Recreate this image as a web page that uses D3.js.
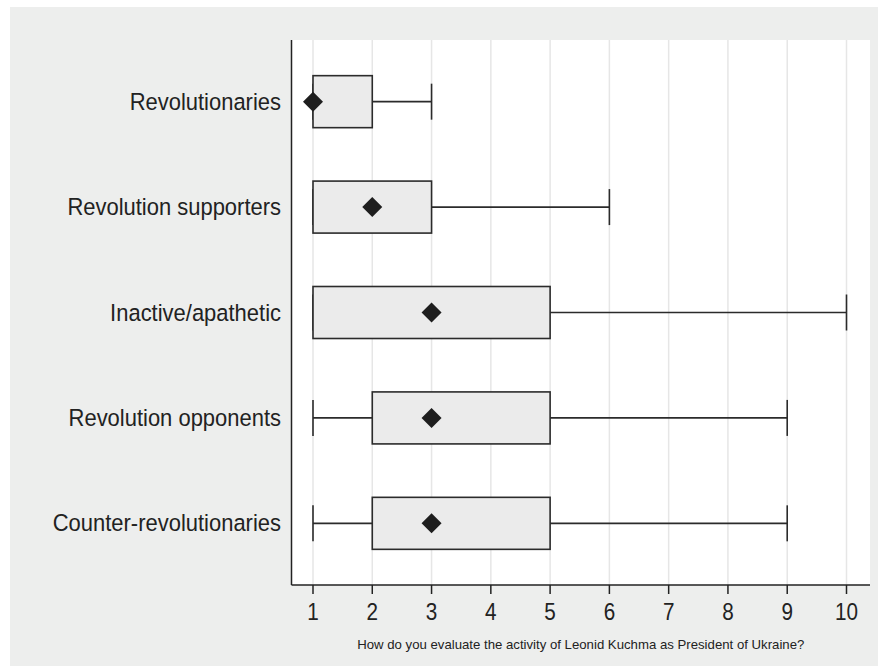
<!DOCTYPE html>
<html>
<head>
<meta charset="utf-8">
<script src="https://cdn.jsdelivr.net/npm/d3@7"></script>
<style>
  body { margin: 0; background: #fff; }
  svg { display: block; }
</style>
</head>
<body>
<svg id="chart"></svg>
<script>
// Box plot: Kuchma evaluation by revolution participation group

var categories = ["Revolutionaries", "Revolution supporters", "Inactive/apathetic",
                  "Revolution opponents", "Counter-revolutionaries"];
var mins    = [1, 1, 1, 1, 1];
var q1s     = [1, 1, 1, 2, 2];
var medians = [1, 2, 3, 3, 3];
var q3s     = [2, 3, 5, 5, 5];
var maxs    = [3, 6, 10, 9, 9];
var xTicks  = [1, 2, 3, 4, 5, 6, 7, 8, 9, 10];
var xTitle  = "How do you evaluate the activity of Leonid Kuchma as President of Ukraine?";

var width = 878, height = 666;
var plot = { left: 291.5, right: 870, top: 40, bottom: 585 };
// the reference font is a bit narrower than Liberation
var squeezeTick = 0.88, squeezeLabel = 0.935;
var font = "Liberation Sans, Arial, sans-serif";

var rows = categories.map(function(c, i) {
  return { name: c, min: mins[i], q1: q1s[i], med: medians[i], q3: q3s[i], max: maxs[i] };
});

var svg = d3.select("#chart").attr("width", width).attr("height", height);

// outer grey background
svg.append("rect").attr("x", 10).attr("y", 7)
  .attr("width", width - 10).attr("height", height - 7)
  .attr("fill", "#edeeed");
svg.append("rect").attr("x", plot.left).attr("y", plot.top)
  .attr("width", plot.right - plot.left).attr("height", plot.bottom - plot.top)
  .attr("fill", "#ffffff");

var x = d3.scaleLinear().domain([1, 10]).range([313, 846.5]);
var y = d3.scalePoint().domain(categories)
  .range([plot.top, plot.bottom]).padding(0.585);

// vertical grid
svg.append("g").selectAll("line").data(xTicks).enter().append("line")
  .attr("x1", function(d) { return x(d); }).attr("x2", function(d) { return x(d); })
  .attr("y1", plot.top).attr("y2", plot.bottom)
  .attr("stroke", "#e6e6e6").attr("stroke-width", 1.5);

var boxH = 26, capH = 18, dia = 10;
var g = svg.append("g");
var grp = g.selectAll("g.row").data(rows).enter().append("g").attr("class", "row")
  .attr("transform", function(d) { return "translate(0," + y(d.name) + ")"; });

grp.append("line")
  .attr("x1", function(d) { return x(d.min); }).attr("x2", function(d) { return x(d.max); })
  .attr("y1", 0).attr("y2", 0)
  .attr("stroke", "#2b2b2b").attr("stroke-width", 1.6);
grp.selectAll("line.cap").data(function(d) { return [d.min, d.max]; })
  .enter().append("line").attr("class", "cap")
  .attr("x1", function(v) { return x(v); }).attr("x2", function(v) { return x(v); })
  .attr("y1", -capH).attr("y2", capH)
  .attr("stroke", "#2b2b2b").attr("stroke-width", 1.6);
grp.append("rect")
  .attr("x", function(d) { return x(d.q1); })
  .attr("width", function(d) { return x(d.q3) - x(d.q1); })
  .attr("y", -boxH).attr("height", 2 * boxH)
  .attr("fill", "#ebebeb").attr("stroke", "#2b2b2b").attr("stroke-width", 1.6);
grp.append("path")
  .attr("d", function(d) {
    var cx = x(d.med);
    return "M" + (cx - dia) + ",0L" + cx + "," + (-dia) + "L" + (cx + dia) + ",0L" + cx + "," + dia + "Z";
  })
  .attr("fill", "#1e1e1e");

// axes lines
svg.append("line").attr("x1", plot.left).attr("x2", plot.left)
  .attr("y1", plot.top).attr("y2", plot.bottom)
  .attr("stroke", "#222").attr("stroke-width", 1.5);
svg.append("line").attr("x1", plot.left).attr("x2", plot.right)
  .attr("y1", plot.bottom).attr("y2", plot.bottom)
  .attr("stroke", "#222").attr("stroke-width", 1.5);

// x ticks + labels
var xt = svg.append("g").selectAll("g").data(xTicks).enter().append("g")
  .attr("transform", function(d) { return "translate(" + x(d) + "," + plot.bottom + ")"; });
xt.append("line").attr("y1", 0).attr("y2", 9).attr("stroke", "#222").attr("stroke-width", 1.5);
xt.append("text").text(function(d) { return d; })
  .attr("transform", "translate(0,35) scale(" + squeezeTick + ",1)")
  .attr("text-anchor", "middle")
  .attr("font-family", font)
  .attr("font-size", 23.5).attr("fill", "#222");

// category labels
svg.append("g").selectAll("text").data(categories).enter().append("text")
  .text(function(d) { return d; })
  .attr("transform", function(d) { return "translate(281," + (y(d) + 8) + ") scale(" + squeezeLabel + ",1)"; })
  .attr("text-anchor", "end")
  .attr("font-family", font)
  .attr("font-size", 23.5).attr("fill", "#222");

// x title
svg.append("text").text(xTitle)
  .attr("x", (plot.left + plot.right) / 2).attr("y", 649)
  .attr("text-anchor", "middle")
  .attr("font-family", font)
  .attr("font-size", 13.2).attr("fill", "#222");
</script>
</body>
</html>
